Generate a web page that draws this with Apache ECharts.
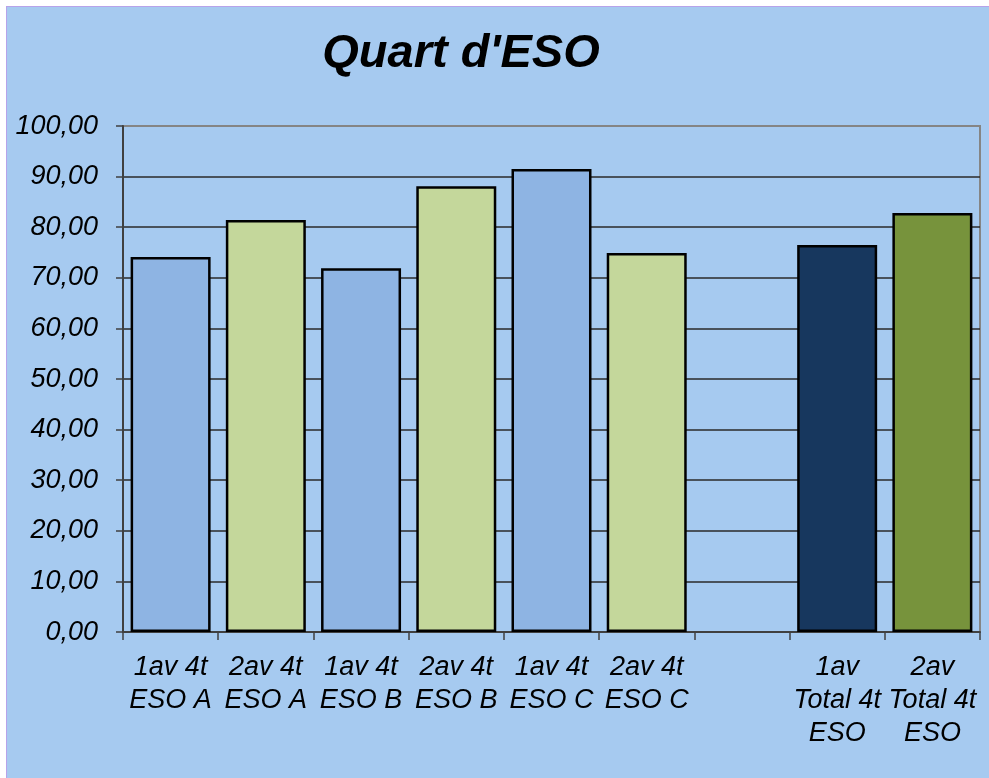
<!DOCTYPE html>
<html>
<head>
<meta charset="utf-8">
<title>Quart d'ESO</title>
<script src="https://cdn.jsdelivr.net/npm/echarts@6/dist/echarts.min.js"></script>
<style>
  html, body { margin: 0; padding: 0; background: #ffffff; }
  #frame {
    position: absolute;
    left: 6px;
    top: 6px;
    width: 983px;
    height: 772px;
    border-left: 1px solid #b7a3ea;
    border-top: 1px solid #b7a3ea;
    box-sizing: border-box;
  }
  #chart { width: 982px; height: 771px; }
</style>
</head>
<body>
<div id="frame"><div id="chart"></div></div>
<script>
// categories (empty slot between class groups and totals)
var categories = [
  "1av 4t\nESO A", "2av 4t\nESO A",
  "1av 4t\nESO B", "2av 4t\nESO B",
  "1av 4t\nESO C", "2av 4t\nESO C",
  "",
  "1av\nTotal 4t\nESO", "2av\nTotal 4t\nESO"
];
var values = [74.1, 81.4, 71.9, 88.1, 91.5, 74.9, null, 76.5, 82.8];
var barColors = [
  "#8eb4e3", "#c4d79b", "#8eb4e3", "#c4d79b", "#8eb4e3", "#c4d79b",
  "#8eb4e3", "#17375e", "#77933c"
];
var yMin = 0, yMax = 100, yStep = 10;

var chart = echarts.init(document.getElementById("chart"));

var option = {
  backgroundColor: "#a6caf0",
  animation: false,
  textStyle: { fontFamily: "Liberation Sans, Arial, sans-serif" },
  title: {
    text: "Quart d'ESO",
    left: 449,
    top: 19,
    textAlign: "center",
    textStyle: {
      fontSize: 47,
      fontWeight: "bold",
      fontStyle: "italic",
      color: "#000000",
      fontFamily: "Liberation Sans, Arial, sans-serif"
    }
  },
  grid: {
    left: 116,
    right: 9,
    top: 119,
    bottom: 146,
    show: true,
    backgroundColor: "transparent",
    borderColor: "#858585",
    borderWidth: 2
  },
  xAxis: {
    type: "category",
    data: categories,
    axisLine: { lineStyle: { color: "#404040", width: 2 } },
    axisTick: { show: true, length: 8, lineStyle: { color: "#404040", width: 1.5 } },
    axisLabel: {
      interval: 0,
      margin: 19,
      color: "#000000",
      fontSize: 27,
      fontStyle: "italic",
      lineHeight: 33,
      fontFamily: "Liberation Sans, Arial, sans-serif"
    }
  },
  yAxis: {
    type: "value",
    min: yMin,
    max: yMax,
    interval: yStep,
    axisLine: { show: true, lineStyle: { color: "#404040", width: 2 } },
    axisTick: { show: true, length: 7, lineStyle: { color: "#404040", width: 1.5 } },
    splitLine: {
      show: true,
      showMinLine: false,
      showMaxLine: false,
      lineStyle: { color: "#2a2a2a", width: 1.5 }
    },
    axisLabel: {
      margin: 25,
      color: "#000000",
      fontSize: 27,
      fontStyle: "italic",
      fontFamily: "Liberation Sans, Arial, sans-serif",
      formatter: function (v) { return v.toFixed(2).replace(".", ","); }
    }
  },
  series: [
    {
      type: "bar",
      barCategoryGap: "16%",
      data: values.map(function (v, i) {
        return {
          value: v === null ? "-" : v,
          itemStyle: { color: barColors[i], borderColor: "#000000", borderWidth: 2.5 }
        };
      })
    }
  ]
};

chart.setOption(option);
</script>
</body>
</html>
